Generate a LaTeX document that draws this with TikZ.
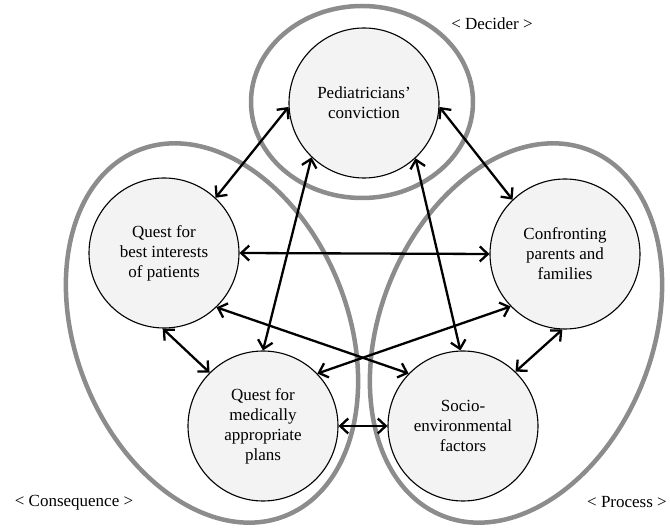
\documentclass[tikz,border=0pt]{standalone}
\usepackage{fontspec}
\setmainfont{Liberation Serif}
\usetikzlibrary{arrows.meta}
\definecolor{ringgray}{HTML}{8C8C8C}
\definecolor{factorfill}{HTML}{F3F3F3}

\begin{document}
\begin{tikzpicture}[x=1pt, y=1pt,
    factor/.style={circle, draw, line width=1.1pt, fill=factorfill, minimum size=150pt,
      inner sep=0pt, align=center, font=\fontsize{17}{20}\selectfont},
    ring/.style={draw=ringgray, line width=4.5pt},
    link/.style={<->, line width=2.3pt, >={Straight Barb[length=8pt,width=15pt]}},
    tag/.style={font=\fontsize{17}{20}\selectfont}]
  \useasboundingbox (0,0) rectangle (670,530);

  % Groups
  \draw[ring] (362,428) ellipse [x radius=111, y radius=96];
  \draw[ring, rotate around={22:(212,197)}] (212,197) ellipse [x radius=136, y radius=197];
  \draw[ring, rotate around={-22:(516,197)}] (516,197) ellipse [x radius=136, y radius=197];

  % Factors
  \node[factor] (ped) at (364,427) {Pediatricians’\\conviction};
  \node[factor] (best) at (164,277) {Quest for\\best interests\\of patients};
  \node[factor] (conf) at (565,276) {Confronting\\parents and\\families};
  \node[factor] (med) at (263,104) {Quest for\\medically\\appropriate\\plans};
  \node[factor] (soc) at (463,104) {Socio-\\environmental\\factors};

  % Links
  \draw[link] (ped.183) -- (best.47);
  \draw[link] (ped.357) -- (conf.134);
  \draw[link] (ped.226) -- (med.90);
  \draw[link] (ped.313) -- (soc.92);
  \draw[link] (best.0) -- (conf.180);
  \draw[link] (best.269) -- (med.135);
  \draw[link] (best.314) -- (soc.136);
  \draw[link] (conf.224) -- (med.44);
  \draw[link] (conf.268) -- (soc.46);
  \draw[link] (med.0) -- (soc.180);

  % Group labels
  \node[tag] (decider) at (492,506) {< Decider >};
  \node[tag] (consequence) at (74,27) {< Consequence >};
  \node[tag] (process) at (627,28) {< Process >};
\end{tikzpicture}
\end{document}
